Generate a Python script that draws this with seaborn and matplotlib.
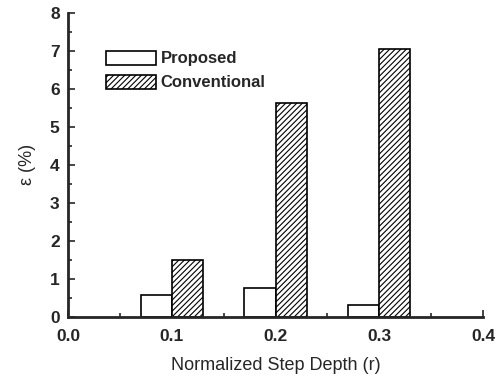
import matplotlib
matplotlib.use("Agg")
import matplotlib.pyplot as plt
import seaborn as sns
import pandas as pd
from matplotlib.ticker import MultipleLocator
from matplotlib.patches import Patch

depths = [0.1, 0.2, 0.3]
proposed = [0.57, 0.77, 0.31]
conventional = [1.50, 5.62, 7.06]
series = ["Proposed", "Conventional"]

df = pd.DataFrame({
    "depth": depths * 2,
    "eps": proposed + conventional,
    "method": [series[0]] * 3 + [series[1]] * 3,
})

sns.set_style("ticks")
plt.rcParams["font.family"] = ["Liberation Sans", "DejaVu Sans"]
plt.rcParams["hatch.linewidth"] = 0.8

fig = plt.figure(figsize=(5, 3.8), dpi=100)
ax = fig.add_axes([0.136, 0.166, 0.83, 0.8])

sns.barplot(data=df, x="depth", y="eps", hue="method", hue_order=series,
            native_scale=True, width=0.6, dodge=True, ax=ax,
            palette=["white", "white"], edgecolor="black", linewidth=1.2,
            legend=False)

n = len(depths)
for i, patch in enumerate(ax.patches):
    if i >= n:
        patch.set_hatch("//////")

ax.set_xlim(0.0, 0.4)
ax.set_ylim(0, 8)
ax.xaxis.set_major_locator(MultipleLocator(0.1))
ax.xaxis.set_minor_locator(MultipleLocator(0.05))
ax.yaxis.set_major_locator(MultipleLocator(1))
ax.yaxis.set_minor_locator(MultipleLocator(0.5))
ax.set_xticks([0.0, 0.1, 0.2, 0.3, 0.4])
ax.set_xticklabels(["0.0", "0.1", "0.2", "0.3", "0.4"])
ax.tick_params(which="both", direction="in", width=1.2)
ax.tick_params(which="major", length=5, labelsize=12.5)
ax.tick_params(which="minor", length=3)
ax.tick_params(axis="x", which="major", pad=9)
ax.tick_params(axis="y", which="major", pad=6)
for lbl in ax.get_xticklabels() + ax.get_yticklabels():
    lbl.set_fontweight("bold")

sns.despine(ax=ax)
for s in ["left", "bottom"]:
    ax.spines[s].set_linewidth(2)

ax.set_xlabel("Normalized Step Depth (r)", fontsize=13, labelpad=9)
ax.set_ylabel("ε (%)", fontsize=13, labelpad=10)

handles = [Patch(facecolor="white", edgecolor="black", linewidth=1.2),
           Patch(facecolor="white", edgecolor="black", linewidth=1.2, hatch="//////")]
leg = ax.legend(handles, series, loc="upper left", bbox_to_anchor=(0.055, 0.925),
                frameon=False, handlelength=3.0, handleheight=0.9,
                handletextpad=0.3, labelspacing=0.5,
                prop={"weight": "bold", "size": 12})

fig.savefig("out.png", dpi=100)
